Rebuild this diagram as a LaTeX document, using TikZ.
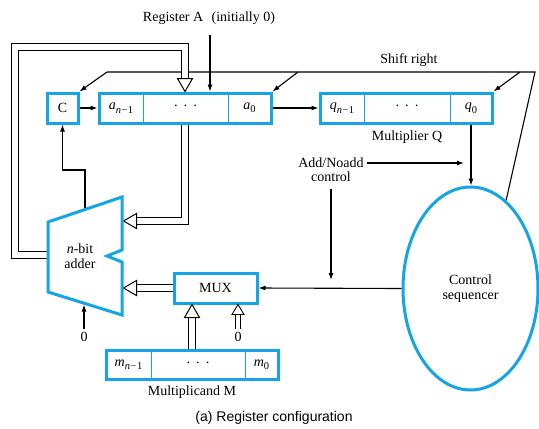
\documentclass[tikz,border=0pt]{standalone}
\usepackage{fontspec}
\setmainfont{Liberation Serif}
\newfontfamily\captionsans{Liberation Sans}
\usetikzlibrary{arrows.meta,calc,shapes.geometric}
\definecolor{regblue}{RGB}{22,165,228}
% register cell contents
\newcommand\subsz{\fontsize{10.5}{11}\selectfont}
\newcommand\rsub[1]{\textit{#1}\raisebox{-3.5pt}{\subsz\textit{n}\kern0.5pt−\kern0.5pt1}}
\newcommand\rzero[1]{\textit{#1}\raisebox{-3.5pt}{\subsz 0}}
\newcommand\rdots{·\hspace{5pt}·\hspace{5pt}·}
\tikzset{
  reg/.style={draw=regblue, line width=3pt, minimum height=30pt, inner sep=0pt},
  divider/.style={draw=regblue, line width=1pt},
  lbl/.style={inner sep=0pt, align=center},
  wire/.style={line width=1.1pt},
  arr/.style={wire, -{Latex[length=7pt,width=5pt]}},
  dbl/.style={draw=black, line width=1pt, double=white, double distance=6pt},
  dbls/.style={draw=black, line width=0.9pt, double=white, double distance=4pt},
  hhead/.pic={\draw[line width=1pt, fill=white, line join=miter] (0,0) -- (-13,7.5) -- (-13,-7.5) -- cycle;},
  hheadsmall/.pic={\draw[line width=0.9pt, fill=white, line join=miter] (0,0) -- (-10,6) -- (-10,-6) -- cycle;}
}
\begin{document}
\begin{tikzpicture}[x=1pt, y=-1pt, font=\fontsize{14}{14.5}\selectfont]
\useasboundingbox (0,0) rectangle (539,429);
\fill[white] (0,0) rectangle (539,429);

% registers
\node[reg, minimum width=31pt] (C) at (62.5,108) {C};
\node[reg, minimum width=172pt] (A) at (185,108) {};
\node[reg, minimum width=172pt] (Q) at (406,108) {};
\node[reg, minimum width=172pt, minimum height=29pt] (M) at (192,364.5) {};
\node[reg, minimum width=83pt] (MUX) at (215.5,288) {MUX};
\node[draw=regblue, line width=3pt, ellipse, minimum width=135pt, minimum height=203pt,
      inner sep=0pt, align=center] (seq) at (470.5,288.5) {Control\\sequencer};

% register cells
\draw[divider] (143,93) -- (143,123) (228,93) -- (228,123);
\node[lbl] (a1) at (121,108) {\rsub{a}};
\node[lbl] (ad) at (185.5,108) {\rdots};
\node[lbl] (a0) at (249.5,108) {\rzero{a}};
\draw[divider] (364,93) -- (364,123) (450,93) -- (450,123);
\node[lbl] (q1) at (342,108) {\rsub{q}};
\node[lbl] (qd) at (407,108) {\rdots};
\node[lbl] (q0) at (471,108) {\rzero{q}};
\draw[divider] (151,350) -- (151,379) (245,350) -- (245,379);
\node[lbl] (m1) at (128.5,364.5) {\rsub{m}};
\node[lbl] (md) at (198,364.5) {\rdots};
\node[lbl] (m0) at (261.5,364.5) {\rzero{m}};

% labels
\node[lbl] (lblA) at (209,18) {Register A\hspace{0.6em}(initially 0)};
\node[lbl] (lblSR) at (409,60) {Shift right};
\node[lbl] (lblQ) at (407,137) {Multiplier Q};
\node[lbl] (an1) at (331,163) {Add/Noadd};
\node[lbl] (an2) at (331,177) {control};
\node[lbl] (lblM) at (192,392) {Multiplicand M};
\node[lbl] (z1) at (84,337) {0};
\node[lbl] (z2) at (238,337) {0};
\node[lbl] (addtxt) at (80,256) {\textit{n}-bit\\adder};
\node[lbl, font=\captionsans\fontsize{14}{14.5}\selectfont] (cap) at (274,418) {(a) Register configuration};

% adder attachment points
\coordinate (addL) at (46.5,255);
\coordinate (addR1) at (123.5,221);
\coordinate (addR2) at (123.5,288);
\coordinate (addT) at (85,209.5);
\coordinate (addB) at (84,304.5);
\coordinate (lp) at (14.5,46.5);

% shift-right control line
\coordinate (srL) at (107,72);
\coordinate (srA) at (298,72);
\coordinate (srQ) at (520,72);
\coordinate (srR) at (535,72);
\draw[wire] (srL) -- (srR) -- (seq.68);
\draw[arr] (srL) -- (C.north east);
\draw[arr] (srA) -- (A.north east);
\draw[arr] (srQ) -- (Q.north east);

% single-line connections
\coordinate (raIn) at (210,35);
\draw[arr] (raIn) -- (raIn |- A.north);
\draw[arr] (C.east) -- (A.west);
\draw[arr] (A.east) -- (Q.west);
\draw[arr] (Q.south -| q0) -- (seq.north -| q0);
\draw[arr] ($(an1.east)+(3,0)$) -- ($(an1.east -| q0)+(-7,0)$);
\draw[arr] ($(an2.south)+(0,7)$) -- ($(an2.south |- MUX.east)+(0,-8)$);
\draw[arr] (seq.west) -- (MUX.east);
\draw[arr] (addT) -- ++(0,-39.5) -| (C.south);
\draw[arr] ($(z1.north)+(0,-3)$) -- (addB);

% wide data paths
\draw[dbl] (addL) -| (lp) -| ($(A.north)+(0,-12)$);
\pic[rotate=-90] at (A.north) {hhead};
\draw[dbl] (A.south) |- ($(addR1)+(12,0)$);
\pic[rotate=180] at (addR1) {hhead};
\draw[dbl] (MUX.west) -- ($(addR2)+(12,0)$);
\pic[rotate=180] at (addR2) {hhead};
\draw[dbl] (M.north) -- ($(MUX.south -| M.north)+(0,12)$);
\pic[rotate=90] at (MUX.south -| M.north) {hhead};
\draw[dbls] ($(z2.north)+(0,-3)$) -- ($(MUX.south -| z2)+(0,9)$);
\pic[rotate=90] at (MUX.south -| z2) {hheadsmall};

% adder outline
\draw[draw=regblue, line width=3pt, line join=miter]
  (48,222) -- (122,197) -- (122,250) -- (107,256) -- (122,262) -- (122,315) -- (48,292) -- cycle;
\end{tikzpicture}
\end{document}
